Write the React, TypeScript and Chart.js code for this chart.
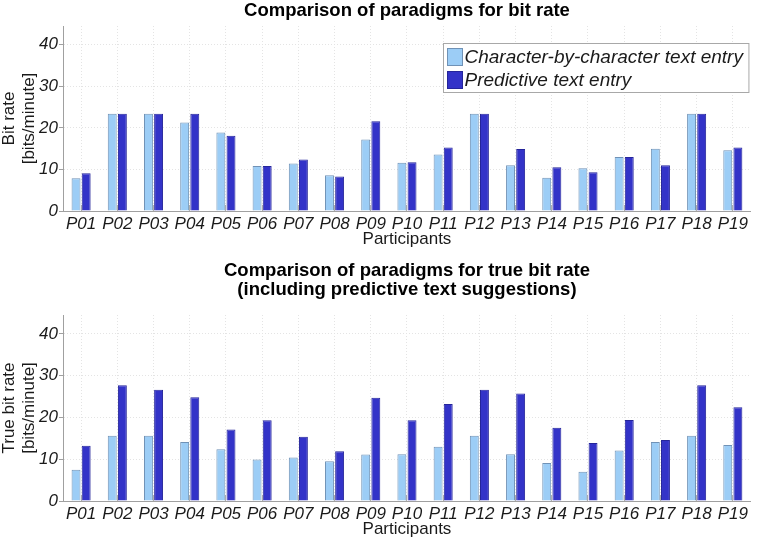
import React, { useEffect, useRef } from 'react';
import { Chart, registerables } from 'chart.js';

Chart.register(...registerables);

const participants = ['P01', 'P02', 'P03', 'P04', 'P05', 'P06', 'P07', 'P08', 'P09', 'P10', 'P11', 'P12', 'P13', 'P14', 'P15', 'P16', 'P17', 'P18', 'P19'];
const seriesLabels = ['Character-by-character text entry', 'Predictive text entry'];
const bitRateChar = [7.9, 23.4, 23.4, 21.3, 18.9, 10.8, 11.4, 8.6, 17.2, 11.6, 13.6, 23.4, 11.0, 8.0, 10.3, 13.0, 15.0, 23.4, 14.6];
const bitRatePred = [9.1, 23.4, 23.4, 23.4, 18.1, 10.8, 12.4, 8.3, 21.6, 11.7, 15.3, 23.4, 14.9, 10.5, 9.3, 13.0, 11.0, 23.4, 15.3];
const trueBitRateChar = [7.5, 15.6, 15.6, 14.1, 12.4, 9.9, 10.4, 9.5, 11.1, 11.2, 13.0, 15.6, 11.2, 9.1, 7.0, 12.1, 14.1, 15.6, 13.4];
const trueBitRatePred = [13.2, 27.7, 26.6, 24.8, 17.1, 19.3, 15.4, 11.9, 24.7, 19.3, 23.2, 26.6, 25.7, 17.5, 13.9, 19.4, 14.6, 27.7, 22.4];
const yTickValues = [0, 10, 20, 30, 40];
const yMax = 44.5;

const FONT = '"Liberation Sans", Arial, Helvetica, sans-serif';
const TEXT = '#1a1a1a';
const LIGHT_FILL = '#9ccdf6';
const LIGHT_BORDER = '#7092b6';
const DARK_FILL = '#3333c8';
const DARK_BORDER = '#25259a';

type PanelProps = {
  width: number;
  height: number;
  titleLines: string[];
  titleTop: number;
  yTitle: string[];
  a: number[];
  b: number[];
  legend: boolean;
  padTop: number;
  padBottom: number;
};

function Panel(p: PanelProps) {
  const ref = useRef<HTMLCanvasElement | null>(null);
  useEffect(() => {
    if (!ref.current) return;
    const overlay = {
      id: 'overlay',
      afterDraw(chart: any) {
        const ctx = chart.ctx;
        const area = chart.chartArea;
        ctx.save();
        ctx.fillStyle = '#000';
        ctx.font = `bold 18.5px ${FONT}`;
        ctx.textAlign = 'center';
        ctx.textBaseline = 'middle';
        const cx = (area.left + area.right) / 2;
        p.titleLines.forEach((line, i) => ctx.fillText(line, cx, p.titleTop + i * 19));
        if (p.legend) {
          ctx.font = `italic 19px ${FONT}`;
          const widths = seriesLabels.map((l) => ctx.measureText(l).width);
          const tw = Math.max(...widths);
          const bw = 4 + 15 + 3 + tw + 5;
          const bh = 49;
          const bx = Math.round(area.right - 3 - bw) + 0.5;
          const by = Math.round(area.top + 17) + 0.5;
          ctx.fillStyle = '#ffffff';
          ctx.fillRect(bx, by, bw, bh);
          ctx.strokeStyle = '#a8a8a8';
          ctx.lineWidth = 1;
          ctx.strokeRect(bx, by, bw, bh);
          const fills = [LIGHT_FILL, DARK_FILL];
          const borders = [LIGHT_BORDER, DARK_BORDER];
          seriesLabels.forEach((l, i) => {
            const ry = by + 5 + i * 23;
            ctx.fillStyle = fills[i];
            ctx.fillRect(bx + 4, ry, 15, 17);
            ctx.strokeStyle = borders[i];
            ctx.strokeRect(bx + 4, ry, 15, 17);
            ctx.fillStyle = TEXT;
            ctx.textAlign = 'left';
            ctx.textBaseline = 'middle';
            ctx.fillText(l, bx + 21, ry + 9);
          });
        }
        ctx.restore();
      },
    };
    const chart = new Chart(ref.current, {
      type: 'bar',
      data: {
        labels: participants,
        datasets: [
          {
            label: seriesLabels[0],
            data: p.a,
            backgroundColor: LIGHT_FILL,
            borderColor: LIGHT_BORDER,
            borderWidth: 1,
            categoryPercentage: 0.56,
            barPercentage: 0.88,
          },
          {
            label: seriesLabels[1],
            data: p.b,
            backgroundColor: DARK_FILL,
            borderColor: DARK_BORDER,
            borderWidth: 1,
            categoryPercentage: 0.56,
            barPercentage: 0.88,
          },
        ],
      },
      options: {
        responsive: false,
        animation: false,
        layout: { padding: { top: p.padTop, right: 2, left: 0, bottom: p.padBottom } },
        plugins: { legend: { display: false }, title: { display: false }, tooltip: { enabled: false } },
        scales: {
          x: {
            offset: true,
            grid: {
              offset: false,
              color: '#e4e4e4',
              tickColor: '#b0b0b0',
              tickLength: -6,
              tickBorderDash: [],
              drawTicks: true,
            },
            border: { display: true, color: '#a0a0a0', width: 1, dash: [1, 2] },
            ticks: {
              padding: 9,
              color: TEXT,
              font: { family: FONT, size: 17, style: 'italic' },
              maxRotation: 0,
              autoSkip: false,
            },
            title: {
              display: true,
              text: 'Participants',
              color: TEXT,
              font: { family: FONT, size: 17 },
              padding: { top: 0, bottom: 1 },
            },
            afterFit: (s: any) => {
              s.height = 40;
            },
          },
          y: {
            min: 0,
            max: yMax,
            afterBuildTicks: (s: any) => {
              s.ticks = yTickValues.map((v) => ({ value: v }));
            },
            grid: {
              color: '#e4e4e4',
              tickColor: '#a0a0a0',
              tickLength: 4,
              tickBorderDash: [],
              drawTicks: true,
            },
            border: { display: true, color: '#a0a0a0', width: 1, dash: [1, 2] },
            ticks: {
              padding: 1,
              color: TEXT,
              font: { family: FONT, size: 17, style: 'italic' },
            },
            title: {
              display: true,
              text: p.yTitle,
              color: TEXT,
              font: { family: FONT, size: 17, lineHeight: 1.15 },
              padding: { top: 0, bottom: 0 },
            },
            afterFit: (s: any) => {
              s.width = 63;
            },
          },
        },
      },
      plugins: [overlay],
    } as any);
    return () => chart.destroy();
  }, []);
  return <canvas ref={ref} width={p.width} height={p.height} style={{ display: 'block' }} />;
}

export default function App() {
  return (
    <div style={{ position: 'absolute', left: 0, top: 0, width: 757, height: 541, background: '#fff' }}>
      <Panel
        width={757}
        height={262}
        titleLines={['Comparison of paradigms for bit rate']}
        titleTop={11}
        yTitle={['Bit rate', '[bits/minute]']}
        a={bitRateChar}
        b={bitRatePred}
        legend={true}
        padTop={26}
        padBottom={11}
      />
      <Panel
        width={757}
        height={279}
        titleLines={['Comparison of paradigms for true bit rate', '(including predictive text suggestions)']}
        titleTop={9}
        yTitle={['True bit rate', '[bits/minute]']}
        a={trueBitRateChar}
        b={trueBitRatePred}
        legend={false}
        padTop={53}
        padBottom={0}
      />
    </div>
  );
}
